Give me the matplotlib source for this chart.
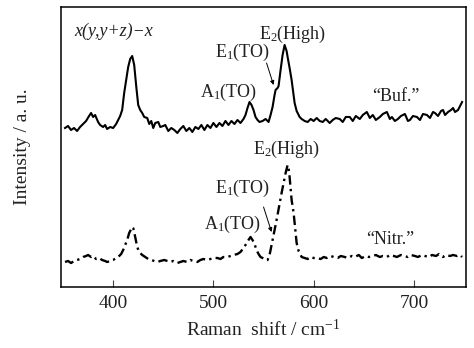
import matplotlib
matplotlib.use("Agg")
import matplotlib.pyplot as plt

# ===================== DATA =====================
# "Buf." spectrum (offset upward)
buf_shift = [352, 355, 358, 361, 364, 367, 370, 373, 376, 378, 380, 382, 385, 387, 390,
             392, 394, 397, 400, 403, 405, 407, 409, 411, 413, 415, 417, 419, 421, 423,
             425, 427, 429, 431, 434, 436, 438, 440, 442, 445, 447, 450, 452, 455, 458,
             461, 464, 467, 470, 473, 476, 479, 482, 485, 488, 491, 494, 497, 500, 503,
             506, 509, 512, 515, 518, 521, 524, 527, 530, 532, 534, 536, 538, 540, 542,
             544, 546, 549, 552, 555, 557, 559, 561, 562, 564, 565, 567, 569, 571, 573,
             574, 576, 578, 580, 581, 583, 586, 588, 591, 594, 597, 600, 603, 606, 609,
             612, 616, 619, 622, 626, 629, 632, 636, 639, 642, 646, 649, 653, 656, 659,
             662, 666, 669, 673, 676, 678, 681, 684, 687, 691, 694, 696, 699, 703, 706,
             709, 713, 716, 719, 721, 724, 727, 729, 731, 734, 737, 739, 741, 744, 746, 748]
buf_int = [159, 161, 157, 159, 156, 160, 163, 166, 171, 174, 170, 172, 165, 162, 160,
           162, 158, 160, 159, 163, 167, 171, 177, 194, 207, 220, 228, 231, 222, 201,
           182, 177, 174, 170, 169, 163, 166, 159, 164, 165, 160, 161, 162, 156, 159,
           157, 154, 158, 161, 156, 159, 155, 160, 158, 162, 157, 162, 159, 164, 160,
           164, 161, 166, 162, 166, 163, 167, 164, 168, 172, 179, 185, 182, 177, 170,
           167, 165, 166, 168, 165, 172, 180, 192, 197, 199, 201, 217, 232, 242, 236,
           230, 219, 207, 192, 184, 176, 170, 168, 166, 165, 168, 166, 169, 166, 165,
           168, 164, 167, 169, 168, 165, 170, 170, 166, 171, 168, 172, 175, 169, 172,
           167, 170, 173, 175, 168, 170, 166, 168, 171, 173, 166, 167, 171, 170, 167,
           173, 172, 169, 175, 174, 171, 176, 177, 172, 175, 177, 179, 175, 177, 181, 185]

# "Nitr." spectrum
nitr_shift = [352, 355, 358, 361, 364, 367, 370, 373, 375, 378, 380, 383, 386, 389, 392,
              394, 397, 400, 403, 405, 408, 410, 412, 414, 416, 418, 419, 420, 422, 424,
              426, 429, 432, 435, 438, 441, 444, 447, 451, 454, 457, 460, 464, 467, 470,
              474, 477, 480, 484, 487, 490, 494, 497, 500, 504, 507, 510, 514, 517, 520,
              524, 527, 530, 532, 535, 537, 539, 541, 543, 545, 547, 549, 552, 554, 556,
              558, 560, 562, 563, 565, 566, 568, 570, 572, 574, 575, 576, 577, 578, 580,
              581, 582, 583, 585, 588, 591, 594, 597, 600, 603, 607, 610, 613, 617, 620,
              624, 627, 631, 634, 638, 641, 645, 648, 652, 655, 659, 662, 666, 669, 673,
              676, 680, 683, 687, 690, 694, 697, 701, 704, 708, 711, 715, 718, 722, 725,
              729, 732, 736, 739, 743, 746, 748]
nitr_int = [25, 26, 24, 26, 27, 28, 30, 31, 32, 30, 31, 28, 29, 27, 26,
            25, 26, 27, 29, 30, 33, 37, 42, 47, 54, 58, 60, 59, 50, 40,
            35, 32, 30, 28, 27, 26, 25, 26, 27, 26, 25, 26, 24, 25, 26,
            25, 27, 26, 25, 27, 28, 27, 28, 29, 29, 28, 30, 30, 31, 32,
            33, 35, 39, 42, 47, 50, 47, 43, 37, 33, 30, 29, 27, 27, 32,
            42, 52, 62, 67, 78, 84, 94, 104, 114, 122, 118, 110, 98, 87, 74,
            64, 53, 44, 36, 30, 29, 28, 30, 29, 29, 28, 30, 29, 31, 30,
            29, 31, 30, 29, 31, 30, 32, 29, 31, 30, 31, 32, 30, 31, 30,
            32, 31, 30, 32, 31, 30, 32, 31, 30, 32, 31, 30, 32, 31, 33,
            30, 32, 31, 32, 31, 32, 30]

x_ticks = [400, 500, 600, 700]
# ================================================

plt.rcParams["font.family"] = "Liberation Serif"
plt.rcParams["mathtext.fontset"] = "custom"
plt.rcParams["mathtext.rm"] = "Liberation Serif"
plt.rcParams["mathtext.it"] = "Liberation Serif:italic"

txt = "#222222"
fig = plt.figure(figsize=(4.74, 3.48), dpi=100)
ax = fig.add_axes([0.1287, 0.1753, 0.8546, 0.8046])

ax.plot(buf_shift, buf_int, color="black", lw=1.5)
ax.plot(nitr_shift, nitr_int, color="black", lw=1.7, linestyle=(0, (4, 1.8, 1, 1.8)))

ax.set_xlim(348, 752)
ax.set_ylim(0, 280)
ax.set_xticks(x_ticks)
ax.set_yticks([])
ax.tick_params(axis="x", direction="in", length=5, width=0.8, pad=6,
               labelsize=14, colors="#444444", labelcolor=txt)
for s in ax.spines.values():
    s.set_linewidth(1.1)

ax.set_xlabel("Raman  shift / cm$^{-1}$", fontsize=14, color=txt, labelpad=5)
ax.set_ylabel("Intensity / a. u.", fontsize=14, color=txt)
ax.yaxis.set_label_coords(-0.075, 0.5)

fs = 13
ax.text(400, 256, "x(y,y+z)\u2212x", fontsize=fs, style="italic", ha="center", va="center",
        color=txt)

# top spectrum labels
ax.text(579, 253, "E$_2$(High)", fontsize=fs, ha="center", va="center", color=txt)
ax.text(529, 235, "E$_1$(TO)", fontsize=fs, ha="center", va="center", color=txt)
ax.text(515, 195, "A$_1$(TO)", fontsize=fs, ha="center", va="center", color=txt)
ax.text(682, 190, "\u201cBuf.\u201d", fontsize=fs, ha="center", va="center", color=txt)
ax.annotate("", xy=(560, 202), xytext=(553, 224),
            arrowprops=dict(arrowstyle="-|>", color="black", lw=0.7,
                            mutation_scale=6, shrinkA=0, shrinkB=0))

# bottom spectrum labels
ax.text(573, 138, "E$_2$(High)", fontsize=fs, ha="center", va="center", color=txt)
ax.text(529, 99, "E$_1$(TO)", fontsize=fs, ha="center", va="center", color=txt)
ax.text(519, 63, "A$_1$(TO)", fontsize=fs, ha="center", va="center", color=txt)
ax.text(676, 47, "\u201cNitr.\u201d", fontsize=fs, ha="center", va="center", color=txt)
ax.annotate("", xy=(558, 55), xytext=(550, 80),
            arrowprops=dict(arrowstyle="-|>", color="black", lw=0.7,
                            mutation_scale=6, shrinkA=0, shrinkB=0))

fig.savefig("out.png", dpi=100)
